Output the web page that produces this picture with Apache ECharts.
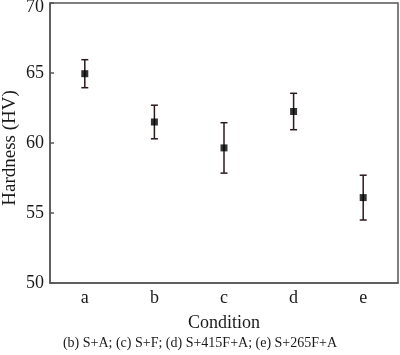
<!DOCTYPE html>
<html><head><meta charset="utf-8">
<script src="https://cdn.jsdelivr.net/npm/echarts@6/dist/echarts.min.js"></script>
<style>html,body{margin:0;padding:0;background:#fff}#c{width:400px;height:355px}</style>
</head><body><div id="c"></div>
<script>
var categories = ['a', 'b', 'c', 'd', 'e'];
var hardness = [64.95, 61.5, 59.65, 62.25, 56.1];
var errors = [1.0, 1.2, 1.8, 1.3, 1.6];
var yTicks = [50, 55, 60, 65, 70];
var yTitle = 'Hardness (HV)';
var xTitle = 'Condition';
var caption = '(b) S+A; (c) S+F; (d) S+415F+A; (e) S+265F+A';

var font = 'Liberation Serif';
var yMax = yTicks[yTicks.length - 1];
var chart = echarts.init(document.getElementById('c'));
var errData = categories.map(function (c, i) { return [i, hardness[i] - errors[i], hardness[i] + errors[i]]; });
chart.setOption({
  animation: false,
  grid: { left: 50, right: 2, top: 3, bottom: 72, containLabel: false, outerBoundsMode: 'none', show: true, borderColor: '#555', borderWidth: 1.5, backgroundColor: 'transparent' },
  xAxis: {
    type: 'category', data: categories, boundaryGap: true,
    name: xTitle, nameLocation: 'middle', nameGap: 31,
    nameTextStyle: { fontFamily: font, fontSize: 18, color: '#1a1a1a' },
    axisLine: { lineStyle: { color: '#555', width: 1.5 } },
    axisTick: { alignWithLabel: true, inside: true, length: 4, lineStyle: { color: '#555', width: 1.5 } },
    axisLabel: { fontFamily: font, fontSize: 18, color: '#1a1a1a', margin: 6 },
    splitLine: { show: false }
  },
  yAxis: {
    type: 'value', min: yTicks[0], max: yMax, interval: 5,
    axisLine: { show: true, lineStyle: { color: '#555', width: 1.5 } },
    axisTick: { show: true, inside: true, length: 4, lineStyle: { color: '#555', width: 1.5 } },
    axisLabel: {
      fontFamily: font, fontSize: 18, color: '#1a1a1a', margin: 6,
      formatter: function (v) { return v === yMax ? '{top|' + v + '}' : String(v); },
      rich: { top: { fontFamily: font, fontSize: 18, color: '#1a1a1a', padding: [8, 0, 0, 0] } }
    },
    splitLine: { show: false }
  },
  graphic: [
    { type: 'text', x: 10, y: 148, rotation: Math.PI / 2,
      style: { text: yTitle, font: '19px "Liberation Serif"', fill: '#1a1a1a', textAlign: 'center', textVerticalAlign: 'middle' } },
    { type: 'text', left: 'center', top: 336, style: { text: caption, font: '14px "Liberation Serif"', fill: '#1a1a1a' } }
  ],
  series: [
    {
      type: 'custom', data: errData, z: 2,
      renderItem: function (params, api) {
        var lo = api.coord([api.value(0), api.value(1)]);
        var hi = api.coord([api.value(0), api.value(2)]);
        var w = 3.5;
        var st = { stroke: '#2a1a1a', lineWidth: 1.5 };
        return { type: 'group', children: [
          { type: 'line', shape: { x1: hi[0], y1: hi[1], x2: lo[0], y2: lo[1] }, style: st },
          { type: 'line', shape: { x1: hi[0] - w, y1: hi[1], x2: hi[0] + w, y2: hi[1] }, style: st },
          { type: 'line', shape: { x1: lo[0] - w, y1: lo[1], x2: lo[0] + w, y2: lo[1] }, style: st }
        ]};
      }
    },
    {
      type: 'scatter', data: hardness, symbol: 'rect', symbolSize: 7, z: 3,
      itemStyle: { color: '#000' }
    }
  ]
});
</script></body></html>
